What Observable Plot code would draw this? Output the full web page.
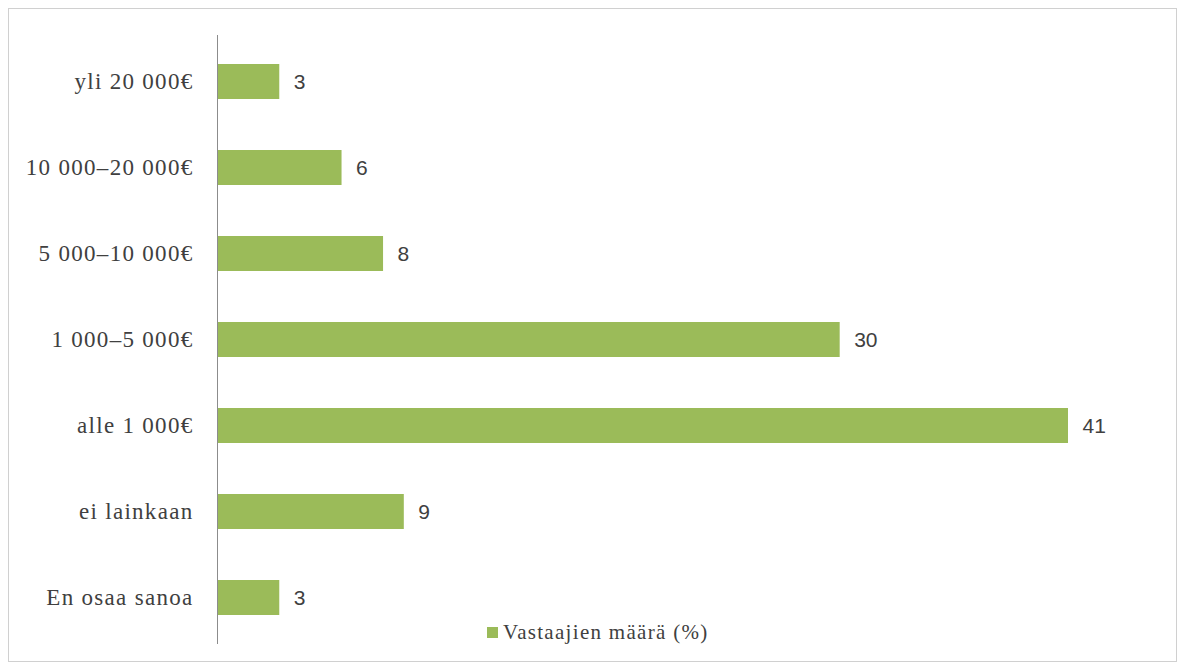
<!DOCTYPE html>
<html>
<head>
<meta charset="utf-8">
<script src="https://cdn.jsdelivr.net/npm/d3@7"></script>
<script src="https://cdn.jsdelivr.net/npm/@observablehq/plot@0.6"></script>
<style>
  html, body { margin: 0; padding: 0; background: #fff; }
  #wrap { position: relative; width: 1183px; height: 665px; overflow: hidden; }
  #frame { position: absolute; left: 8px; top: 8px; width: 1169px; height: 654px; border: 1px solid #d0d0d0; box-sizing: border-box; pointer-events: none; }
  #chart { position: absolute; left: 0; top: 0; }
  #chart g[aria-label="y-axis tick label"] text { letter-spacing: 1.3px; }
  #legend { position: absolute; left: 487px; top: 620px; font-family: "Liberation Serif", serif; font-size: 21px; letter-spacing: 1.3px; color: #404040; display: flex; align-items: center; }
  #legend span.sw { display: inline-block; width: 11px; height: 11px; background: #9BBB59; margin-right: 5px; }
</style>
</head>
<body>
<div id="wrap">
  <div id="chart"></div>
  <div id="frame"></div>
  <div id="legend"><span class="sw"></span><span>Vastaajien määrä (%)</span></div>
</div>
<script>
const categories = ["yli 20 000€", "10 000–20 000€", "5 000–10 000€", "1 000–5 000€", "alle 1 000€", "ei lainkaan", "En osaa sanoa"];
const values = [3, 6, 8, 30, 41, 9, 3];
const seriesName = "Vastaajien määrä (%)";

const data = categories.map((c, i) => ({category: c, value: values[i]}));

const chart = Plot.plot({
  width: 1183,
  height: 665,
  marginLeft: 217,
  marginRight: 115,
  marginTop: 37,
  marginBottom: 23,
  style: {fontFamily: "'Liberation Serif', serif", fontSize: "23px", color: "#404040", background: "transparent"},
  x: {domain: [0, 41], axis: null},
  y: {domain: categories, paddingInner: 0.595, paddingOuter: 0.2975, align: 0.5, label: null},
  marks: [
    Plot.barX(data, {x: "value", y: "category", fill: "#9BBB59"}),
    Plot.axisY({tickSize: 0, tickPadding: 24, fontSize: 23, fill: "#404040", label: null}),
    Plot.ruleX([0], {stroke: "#8c8c8c", strokeWidth: 1, insetTop: -2, insetBottom: -2}),
    Plot.text(data, {x: "value", y: "category", text: d => String(d.value), dx: 14, textAnchor: "start", fontSize: 21, fontFamily: "'Liberation Sans', sans-serif", fill: "#404040"})
  ]
});
document.getElementById("chart").appendChild(chart);
</script>
</body>
</html>
